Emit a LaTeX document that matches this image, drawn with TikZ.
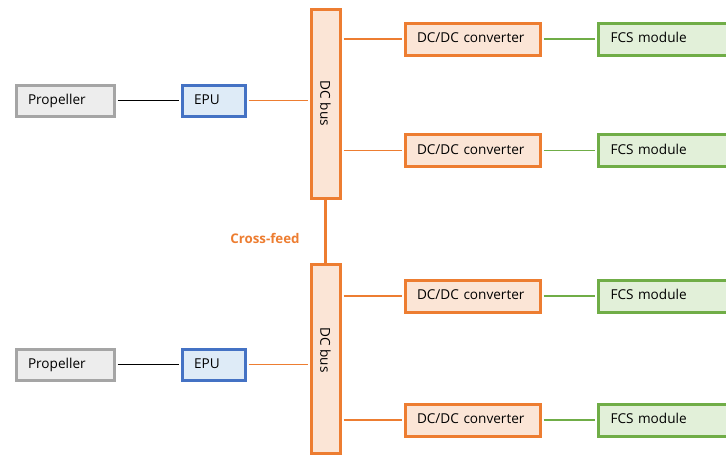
\documentclass[tikz,border=0pt]{standalone}
\usepackage{fontspec}
\setmainfont{Open Sans}
\definecolor{ora}{HTML}{ED7D31}
\definecolor{orafill}{HTML}{FBE5D6}
\definecolor{blu}{HTML}{4472C4}
\definecolor{blufill}{HTML}{DEEBF7}
\definecolor{gra}{HTML}{A5A5A5}
\definecolor{grafill}{HTML}{EDEDED}
\definecolor{gre}{HTML}{70AD47}
\definecolor{grefill}{HTML}{E2F0D9}
\begin{document}
\begin{tikzpicture}[x=1pt,y=-1pt,
  box/.style={draw,line width=3pt,inner sep=0pt,outer sep=0pt,font=\fontsize{13.6}{15}\selectfont,text height=10pt,text depth=3pt},
  propbox/.style={box,draw=gra,fill=grafill,minimum width=98pt,minimum height=31pt,text width=74pt,align=left},
  epubox/.style={box,draw=blu,fill=blufill,minimum width=63pt,minimum height=31pt,text width=39pt,align=left},
  busbox/.style={box,draw=ora,fill=orafill,minimum width=29pt,minimum height=189pt},
  convbox/.style={box,draw=ora,fill=orafill,minimum width=135pt,minimum height=32pt,text width=111pt,align=left},
  fcsbox/.style={box,draw=gre,fill=grefill,minimum width=160pt,minimum height=32pt,text width=136pt,align=left},
  bustext/.style={rotate=-90,font=\fontsize{13.6}{15}\selectfont},
  link/.style={line width=1.2pt,shorten <=3.5pt,shorten >=3.5pt}
]
\useasboundingbox (0,0) rectangle (726,455);
\clip (0,0) rectangle (726,455);
% top half
\node[propbox] (p1) at (65,100.5) {Propeller};
\node[epubox] (e1) at (213.5,100.5) {EPU};
\node[busbox] (b1) at (325.5,103.5) {};
\node[bustext] (b1t) at (b1.center) {DC bus};
\node[convbox] (c1) at (472.5,39) {DC/DC converter};
\node[convbox] (c2) at (472.5,150.5) {DC/DC converter};
\node[fcsbox] (f1) at (678.5,39) {FCS module};
\node[fcsbox] (f2) at (678.5,150.5) {FCS module};
% bottom half
\node[propbox] (p2) at (65,364.5) {Propeller};
\node[epubox] (e2) at (213.5,364.5) {EPU};
\node[busbox] (b2) at (325.5,358.5) {};
\node[bustext] (b2t) at (325.5,350) {DC bus};
\node[convbox] (c3) at (472.5,296) {DC/DC converter};
\node[convbox] (c4) at (472.5,420) {DC/DC converter};
\node[fcsbox] (f3) at (678.5,296) {FCS module};
\node[fcsbox] (f4) at (678.5,420) {FCS module};
% links
\draw[link,black] (p1) -- (e1);
\draw[link,black] (p2) -- (e2);
\draw[link,ora] (e1) -- (e1 -| b1.west);
\draw[link,ora] (e2) -- (e2 -| b2.west);
\draw[link,ora] (c1 -| b1.east) -- (c1);
\draw[link,ora] (c2 -| b1.east) -- (c2);
\draw[link,ora] (c3 -| b2.east) -- (c3);
\draw[link,ora] (c4 -| b2.east) -- (c4);
\draw[link,gre] (c1) -- (f1);
\draw[link,gre] (c2) -- (f2);
\draw[link,gre] (c3) -- (f3);
\draw[link,gre] (c4) -- (f4);
\draw[ora,line width=3pt] (b1) -- (b2);
\node[ora,font=\fontsize{13.3}{15}\selectfont\bfseries] (cf) at (265,238) {Cross-feed};
\end{tikzpicture}
\end{document}
